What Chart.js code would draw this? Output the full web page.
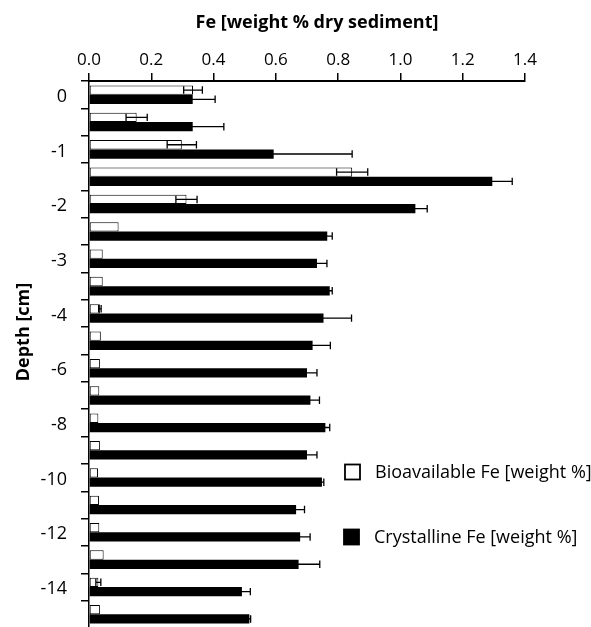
<!DOCTYPE html>
<html>
<head>
<meta charset="utf-8">
<script src="https://cdn.jsdelivr.net/npm/chart.js@4/dist/chart.umd.min.js"></script>
<style>
  html, body { margin: 0; padding: 0; background: #fff; overflow: hidden; }
  #wrap { position: relative; width: 591px; height: 632px; }
</style>
</head>
<body>
<div id="wrap"><canvas id="c"></canvas></div>
<script>
// ---- data ----
const depths = ['0', '-0.5', '-1', '-1.5', '-2', '-2.5', '-3', '-3.5', '-4', '-5',
                '-6', '-7', '-8', '-9', '-10', '-11', '-12', '-13', '-14', '-15'];
const depthTickLabels = ['0', '', '-1', '', '-2', '', '-3', '', '-4', '',
                         '-6', '', '-8', '', '-10', '', '-12', '', '-14', ''];
const bioavailable = [0.334, 0.153, 0.298, 0.845, 0.313, 0.095, 0.044, 0.044, 0.035, 0.038,
                      0.035, 0.033, 0.030, 0.035, 0.029, 0.032, 0.033, 0.047, 0.030, 0.035];
const bioavailableErr = [0.030, 0.034, 0.047, 0.050, 0.034, 0.000, 0.000, 0.000, 0.004, 0.000,
                         0.000, 0.000, 0.000, 0.000, 0.000, 0.000, 0.000, 0.000, 0.008, 0.000];
const crystalline = [0.333, 0.333, 0.593, 1.295, 1.048, 0.765, 0.732, 0.773, 0.753, 0.718,
                     0.700, 0.711, 0.759, 0.700, 0.748, 0.665, 0.678, 0.673, 0.491, 0.515];
const crystallineErr = [0.072, 0.100, 0.252, 0.064, 0.038, 0.016, 0.032, 0.008, 0.090, 0.057,
                        0.032, 0.029, 0.014, 0.032, 0.006, 0.027, 0.032, 0.068, 0.027, 0.004];
const seriesNames = ['Bioavailable Fe [weight %]', 'Crystalline Fe [weight %]'];
const xTitle = 'Fe [weight % dry sediment]';
const yTitle = 'Depth [cm]';

const FONT = "'Open Sans', 'Noto Sans', sans-serif";

// error bar plugin: uses the library's scales to place whiskers
const errorBars = {
  id: 'errorBars',
  afterDatasetsDraw(chart) {
    const ctx = chart.ctx;
    const xs = chart.scales.x;
    chart.data.datasets.forEach((ds, i) => {
      const meta = chart.getDatasetMeta(i);
      if (!ds.errors) return;
      meta.data.forEach((bar, j) => {
        const v = ds.data[j], e = ds.errors[j];
        if (!e) return;
        const x1 = xs.getPixelForValue(v - e);
        const x2 = xs.getPixelForValue(v + e);
        const y = bar.y;
        const capH = bar.height * 0.8;
        ctx.save();
        ctx.strokeStyle = '#000';
        ctx.lineWidth = 1.3;
        ctx.beginPath();
        ctx.moveTo(x1, y); ctx.lineTo(x2, y);
        ctx.moveTo(x1, y - capH / 2); ctx.lineTo(x1, y + capH / 2);
        ctx.moveTo(x2, y - capH / 2); ctx.lineTo(x2, y + capH / 2);
        ctx.stroke();
        ctx.restore();
      });
    });
  }
};

// legend drawn inside the plot, plus the two axis titles
const annotations = {
  id: 'annotations',
  afterDraw(chart, args, opts) {
    const ctx = chart.ctx;
    ctx.save();
    ctx.font = opts.font;
    ctx.textBaseline = 'middle';
    ctx.textAlign = 'left';
    chart.data.datasets.forEach((ds, i) => {
      const pos = opts.items[i];
      ctx.fillStyle = ds.backgroundColor;
      ctx.fillRect(pos.x, pos.y - opts.box / 2, opts.box, opts.box);
      ctx.strokeStyle = '#000';
      ctx.lineWidth = 1.8;
      ctx.strokeRect(pos.x, pos.y - opts.box / 2, opts.box, opts.box);
      ctx.fillStyle = '#000';
      ctx.fillText(ds.label, pos.x + opts.box + opts.gap, pos.y + 1);
    });
    ctx.font = opts.titleFont;
    ctx.textAlign = 'center';
    ctx.fillStyle = '#000';
    ctx.fillText(xTitle, opts.xTitlePos.x, opts.xTitlePos.y);
    ctx.translate(opts.yTitlePos.x, opts.yTitlePos.y);
    ctx.rotate(-Math.PI / 2);
    ctx.fillText(yTitle, 0, 0);
    ctx.restore();
  }
};

new Chart(document.getElementById('c'), {
  type: 'bar',
  data: {
    labels: depths,
    datasets: [
      {
        label: seriesNames[0],
        data: bioavailable,
        errors: bioavailableErr,
        backgroundColor: '#ffffff',
        borderColor: '#000000',
        borderWidth: 1,
        borderSkipped: false,
        categoryPercentage: 0.68,
        barPercentage: 1.0
      },
      {
        label: seriesNames[1],
        data: crystalline,
        errors: crystallineErr,
        backgroundColor: '#000000',
        borderColor: '#000000',
        borderWidth: 0,
        categoryPercentage: 0.68,
        barPercentage: 1.0
      }
    ]
  },
  options: {
    indexAxis: 'y',
    responsive: true,
    maintainAspectRatio: false,
    animation: false,
    layout: { padding: { left: 0, right: 66, top: 0, bottom: 4 } },
    plugins: {
      legend: { display: false },
      tooltip: { enabled: false },
      annotations: {
        font: "18px " + FONT,
        box: 15,
        gap: 15,
        items: [{ x: 345, y: 472 }, { x: 344, y: 537 }],
        titleFont: "bold 18px " + FONT,
        xTitlePos: { x: 317, y: 23 },
        yTitlePos: { x: 24, y: 332 }
      }
    },
    scales: {
      x: {
        type: 'linear',
        position: 'top',
        min: 0,
        max: 1.4,
        afterFit(s) { s.height = 81; },
        ticks: {
          stepSize: 0.2,
          color: '#000',
          padding: 3,
          font: { family: FONT, size: 17 },
          callback: v => Number(v).toFixed(1)
        },
        grid: { drawOnChartArea: false, drawTicks: true, tickLength: 8, color: '#000', lineWidth: 1.5 },
        border: { display: true, color: '#000', width: 2 },
        title: { display: false }
      },
      y: {
        type: 'category',
        afterFit(s) { s.width = 89; s.paddingTop = 0; s.paddingBottom = 0; },
        ticks: {
          autoSkip: false,
          color: '#000',
          padding: 14,
          labelOffset: 2,
          font: { family: FONT, size: 18 },
          callback: (v, i) => depthTickLabels[i]
        },
        grid: { drawOnChartArea: false, drawTicks: true, tickLength: 8, color: '#000', lineWidth: 1.5, offset: true },
        border: { display: true, color: '#000', width: 1.5 },
        title: { display: false }
      }
    }
  },
  plugins: [errorBars, annotations]
});
</script>
</body>
</html>
